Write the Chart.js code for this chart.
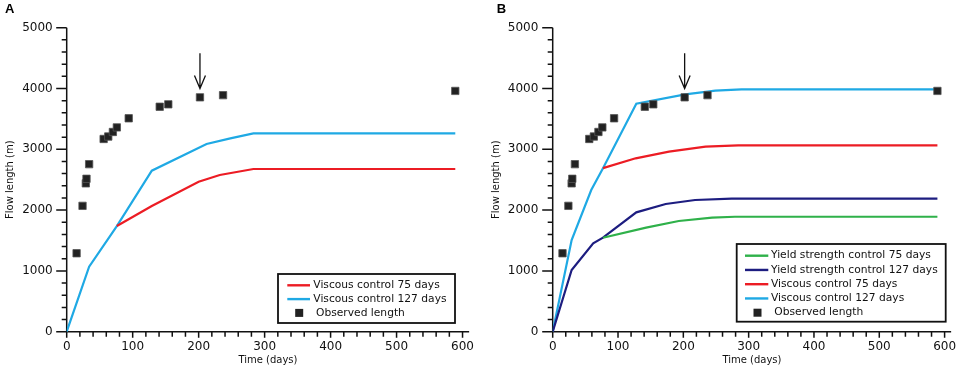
<!DOCTYPE html>
<html lang="en">
<head>
<meta charset="UTF-8">
<title>Flow length vs time</title>
<script src="https://cdn.jsdelivr.net/npm/chart.js"></script>
<style>
  body { margin: 0; background: white; }
  .wrap { position: relative; width: 964px; height: 372px; }
  canvas { position: absolute; top: 0; }
</style>
</head>
<body>
<div class="wrap">
  <canvas id="chartA" width="482" height="372" style="left:0"></canvas>
  <canvas id="chartB" width="482" height="372" style="left:482px"></canvas>
</div>
<script>
  // axis tick labels
  const xTicks = [0, 100, 200, 300, 400, 500, 600];
  const yTicks = [0, 1000, 2000, 3000, 4000, 5000];

  // observed flow front (both panels)
  const obsDays   = [15, 24, 29, 30, 34, 56, 63, 70, 76, 94, 141, 154, 202, 237, 589];
  const obsLength = [1290, 2070, 2440, 2515, 2755, 3170, 3210, 3285, 3360, 3510, 3700, 3740, 3855, 3890, 3960];

  // panel A model runs
  const redADays  = [76, 129, 200, 232, 283, 589];
  const redAVals  = [1738, 2067, 2467, 2577, 2676, 2676];
  const blueADays = [0, 34, 76, 129, 212, 248, 283, 589];
  const blueAVals = [0, 1069, 1738, 2648, 3087, 3180, 3262, 3262];

  // panel B model runs
  const greenBDays = [77, 143, 193, 244, 279, 589];
  const greenBVals = [1546, 1711, 1821, 1875, 1891, 1891];
  const navyBDays  = [0, 29, 62, 77, 128, 173, 218, 274, 589];
  const navyBVals  = [0, 1014, 1453, 1546, 1963, 2100, 2166, 2188, 2188];
  const redBDays   = [77, 127, 178, 234, 284, 589];
  const redBVals   = [2690, 2852, 2961, 3043, 3066, 3066];
  const blueBDays  = [0, 29, 59, 77, 128, 203, 249, 289, 589];
  const blueBVals  = [0, 1508, 2331, 2690, 3750, 3904, 3964, 3987, 3987];

  // arrow marking day 202
  const arrowDay = 202, arrowTop = 4580, arrowTip = 4000;

  const RED = '#ec1c24', BLUE = '#1fa9e4', GREEN = '#2fb14a', NAVY = '#1d1d80';

  Chart.defaults.font.family = "'DejaVu Sans', sans-serif";
  Chart.defaults.color = '#111';

  function pts(xs, ys) {
    return xs.map((x, i) => ({ x: x, y: ys[i] }));
  }

  function lineSet(label, color, xs, ys) {
    return {
      label: label, data: pts(xs, ys), borderColor: color, backgroundColor: color,
      borderWidth: 2.2, pointRadius: 0, tension: 0, order: 2
    };
  }

  function obsSet() {
    return {
      label: 'Observed length', data: pts(obsDays, obsLength), showLine: false,
      pointStyle: 'rect', pointRadius: 5.2, backgroundColor: '#222',
      borderColor: '#555', borderWidth: 0.8, order: 0
    };
  }

  // axes with minor ticks, arrow, panel letter and boxed legend
  const decor = {
    id: 'decor',
    beforeDatasetsDraw(chart) {
      const c = chart.ctx, a = chart.chartArea;
      const xs = chart.scales.x, ys = chart.scales.y;
      c.save();
      c.strokeStyle = '#111';
      c.lineWidth = 1.5;
      c.beginPath();
      c.moveTo(a.left, ys.getPixelForValue(5000));
      c.lineTo(a.left, a.bottom);
      c.moveTo(a.left - 10.5, a.bottom);
      c.lineTo(a.right, a.bottom);
      for (let v = 0; v <= 5000; v += 200) {
        const y = ys.getPixelForValue(v);
        c.moveTo(a.left - (v % 1000 === 0 ? 10.5 : 5), y);
        c.lineTo(a.left, y);
      }
      for (let d = 0; d <= 600; d += 20) {
        const x = xs.getPixelForValue(d);
        c.moveTo(x, a.bottom);
        c.lineTo(x, a.bottom + (d % 100 === 0 ? 6 : 5));
      }
      c.stroke();
      c.restore();
    },
    afterDraw(chart, args, opts) {
      const c = chart.ctx;
      const xs = chart.scales.x, ys = chart.scales.y;
      c.save();
      // arrow
      const ax = xs.getPixelForValue(arrowDay);
      const y0 = ys.getPixelForValue(arrowTop), y1 = ys.getPixelForValue(arrowTip);
      c.strokeStyle = '#111';
      c.lineWidth = 1.3;
      c.beginPath();
      c.moveTo(ax, y0);
      c.lineTo(ax, y1);
      c.moveTo(ax - 5.5, y1 - 13);
      c.lineTo(ax, y1);
      c.lineTo(ax + 5.5, y1 - 13);
      c.stroke();

      // panel letter
      c.fillStyle = '#000';
      c.font = "bold 13px 'Liberation Sans', Arial, sans-serif";
      c.textBaseline = 'top';
      c.textAlign = 'left';
      c.fillText(opts.letter, opts.letterX, 3);

      // legend
      const L = opts.legend;
      c.fillStyle = '#fff';
      c.fillRect(L.x, L.y, L.w, L.h);
      c.strokeStyle = '#111';
      c.lineWidth = 1.8;
      c.strokeRect(L.x, L.y, L.w, L.h);
      c.font = "10.7px 'DejaVu Sans', sans-serif";
      c.textBaseline = 'middle';
      chart.data.datasets.forEach((ds, i) => {
        const y = L.row0 + i * L.step;
        if (ds.showLine === false) {
          c.fillStyle = '#222';
          c.fillRect(L.sq - 4, y - 4, 8, 8);
          c.fillStyle = '#111';
          c.fillText(ds.label, L.sqText, y);
        } else {
          c.strokeStyle = ds.borderColor;
          c.lineWidth = 2.4;
          c.beginPath();
          c.moveTo(L.l0, y);
          c.lineTo(L.l1, y);
          c.stroke();
          c.fillStyle = '#111';
          c.fillText(ds.label, L.text, y);
        }
      });
      c.restore();
    }
  };

  function scales(yWidth, yTitlePad, yTickPad) {
    return {
      x: {
        type: 'linear', min: 0, max: 610,
        grid: { display: false, drawTicks: false }, border: { display: false },
        afterBuildTicks: s => { s.ticks = xTicks.map(v => ({ value: v })); },
        ticks: {
          padding: 7.8, maxRotation: 0, autoSkip: false,
          font: { size: 12 }, callback: v => String(v)
        },
        title: { display: true, text: 'Time (days)', font: { size: 10 }, padding: { top: 0, bottom: 5.5 } },
        afterFit: s => { s.height = 40.3; }
      },
      y: {
        type: 'linear', min: 0, max: 5000,
        grid: { display: false, drawTicks: false }, border: { display: false },
        afterBuildTicks: s => { s.ticks = yTicks.map(v => ({ value: v })); },
        ticks: { padding: yTickPad, autoSkip: false, font: { size: 12 }, callback: v => String(v) },
        title: { display: true, text: 'Flow length (m)', font: { size: 10 }, padding: { top: yTitlePad, bottom: 0 } },
        afterFit: s => { s.width = yWidth; }
      }
    };
  }

  new Chart(document.getElementById('chartA'), {
    type: 'line',
    data: {
      datasets: [
        lineSet('Viscous control 75 days', RED, redADays, redAVals),
        lineSet('Viscous control 127 days', BLUE, blueADays, blueAVals),
        obsSet()
      ]
    },
    options: {
      responsive: false, animation: false,
      layout: { padding: { left: 0, top: 27.7, right: 12.7, bottom: 0 } },
      scales: scales(66.7, 4.5, 14),
      plugins: {
        legend: { display: false }, tooltip: { enabled: false },
        decor: {
          letter: 'A', letterX: 5,
          legend: { x: 278, y: 274, w: 177, h: 49, row0: 285.3, step: 13.8,
                    l0: 287.3, l1: 310, text: 313.3, sq: 299.2, sqText: 316 }
        }
      }
    },
    plugins: [decor]
  });

  new Chart(document.getElementById('chartB'), {
    type: 'line',
    data: {
      datasets: [
        lineSet('Yield strength control 75 days', GREEN, greenBDays, greenBVals),
        lineSet('Yield strength control 127 days', NAVY, navyBDays, navyBVals),
        lineSet('Viscous control 75 days', RED, redBDays, redBVals),
        lineSet('Viscous control 127 days', BLUE, blueBDays, blueBVals),
        obsSet()
      ]
    },
    options: {
      responsive: false, animation: false,
      layout: { padding: { left: 0, top: 27.7, right: 9, bottom: 0 } },
      scales: scales(70.7, 8, 14.4),
      plugins: {
        legend: { display: false }, tooltip: { enabled: false },
        decor: {
          letter: 'B', letterX: 14.7,
          legend: { x: 254.7, y: 244, w: 209, h: 77.7, row0: 255.7, step: 14.25,
                    l0: 263, l1: 286.3, text: 289, sq: 275.5, sqText: 292.3 }
        }
      }
    },
    plugins: [decor]
  });
</script>
</body>
</html>
